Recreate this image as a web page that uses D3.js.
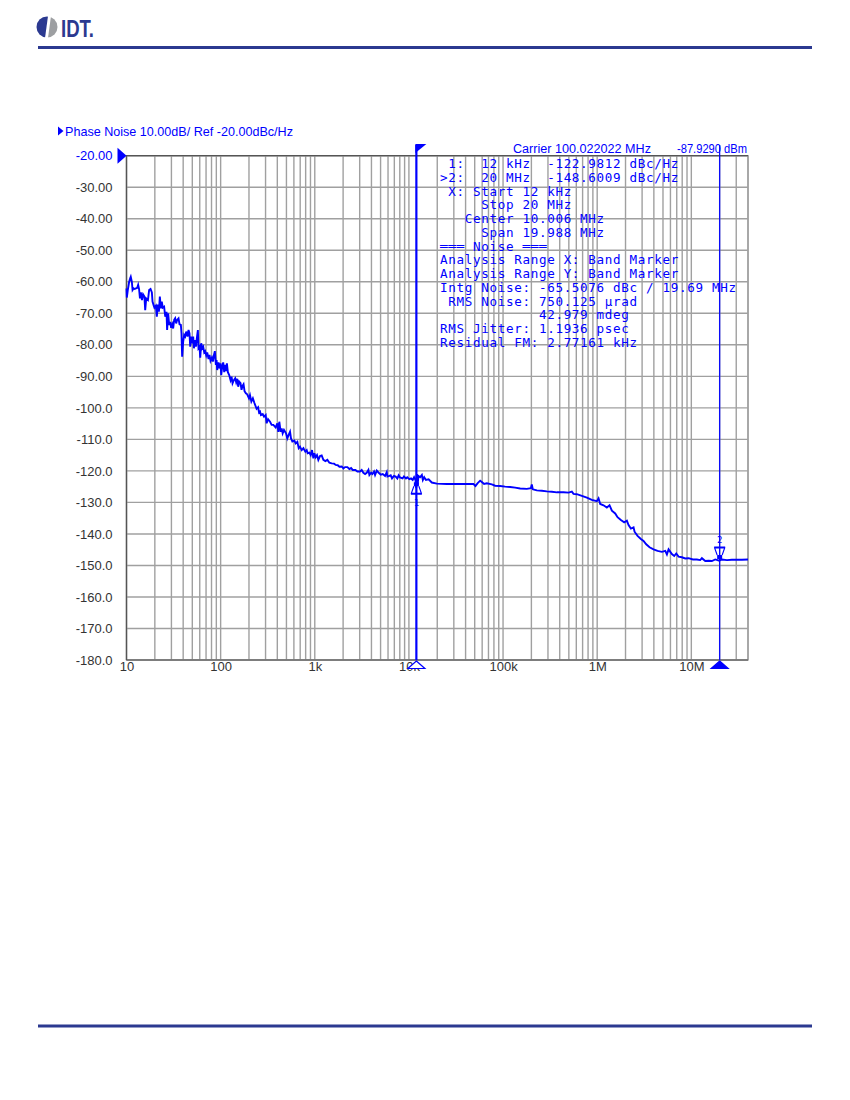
<!DOCTYPE html>
<html>
<head>
<meta charset="utf-8">
<script src="https://cdn.jsdelivr.net/npm/d3@7"></script>
<style>
  body { margin: 0; background: #fff; }
  svg { display: block; }
</style>
</head>
<body>
<svg id="page" width="850" height="1100"></svg>
<script>
// trace values (offset Hz / dBc/Hz)
const offsetHz = [
  10.0, 10.08, 10.33, 10.67, 10.94, 11.1, 11.4, 11.6, 11.9, 12.2, 12.6, 13.0, 13.3, 13.6, 13.9, 14.2,
  14.6, 15.0, 15.5, 15.8, 16.2, 16.9, 17.4, 18.0, 18.6, 18.9, 19.4, 19.8, 20.5, 21.0, 21.5, 22.1,
  22.6, 23.2, 23.7, 24.3, 25.1, 25.8, 26.6, 27.0, 27.7, 28.4, 29.1, 29.8, 30.6, 31.3, 32.1, 32.9,
  33.7, 34.5, 35.7, 36.6, 37.8, 38.4, 39.0, 40.0, 41.0, 42.0, 43.1, 44.5, 45.6, 46.7, 47.5, 48.6,
  49.9, 51.1, 52.0, 53.2, 54.6, 55.9, 57.3, 58.2, 59.7, 60.7, 62.2, 63.7, 65.3, 66.9, 68.5, 70.3,
  72.0, 74.4, 76.2, 78.1, 80.7, 82.7, 84.7, 86.8, 89.0, 90.5, 91.9, 95.0, 97.3, 99.8, 101.4, 103.9,
  106.5, 109.1, 111.8, 114.6, 116.5, 119.4, 123.3, 127.4, 130.6, 133.8, 138.2, 142.8, 146.3, 150.0,
  153.7, 157.5, 162.7, 166.7, 170.9, 175.1, 179.5, 185.4, 191.5, 200, 205, 212, 220, 228, 241, 250, 256,
  262, 268, 280, 289, 301, 308, 319, 335, 348, 363, 384, 400, 410, 420, 434, 445, 456, 471, 495, 511,
  528, 546, 559, 578, 607, 627, 653, 675, 697, 727, 757, 794, 821, 841, 876, 905, 935, 966, 990, 1022,
  1056, 1091, 1137, 1184, 1234, 1296, 1361, 1429, 1513, 1602, 1669, 1753, 1826, 1934, 2015, 2099, 2219,
  2332, 2431, 2531, 2701, 2837, 3026, 3152, 3283, 3422, 3563, 3713, 3804, 3964, 4092, 4265, 4370, 4554,
  4745, 5025, 5277, 5581, 5816, 5911, 6202, 6406, 6616, 6943, 7231, 7535, 7784, 8038, 8567, 8856, 9301,
  9608, 10113, 10532, 10978, 11358, 11738, 11947, 12149, 12353, 12655, 13179, 13729, 14069, 14541,
  15170, 16192, 17505, 19778, 25254, 32261, 41202, 48507, 50942, 53490, 57110, 59489, 62964, 67222,
  75970, 82404, 93128, 105222, 118929, 134491, 151988, 178918, 197302, 202140, 207138, 228505, 258258,
  291880, 329857, 372833, 438708, 495875, 538125, 560380, 608111, 687048, 776467, 877254, 991749,
  1033677, 1076411, 1167522, 1266697, 1352165, 1431989, 1553740, 1644852, 1784342, 1936732, 2067353,
  2153627, 2280216, 2433413, 2493886, 2683366, 2911549, 3106674, 3317925, 3598517, 3968609, 4377402,
  4866021, 5282878, 5502191, 5731180, 6215767, 6581021, 6912411, 7318785, 7939636, 8613700, 9345800,
  10393000, 11457500, 12433000, 12949000, 14054000, 15247000, 16537000, 17948000, 19795000, 21133000,
  23883000, 26979000, 30502000, 34469000, 40000000
];
const phaseNoise = [
  -62.1, -65.0, -62.6, -60.0, -58.9, -58.4, -60.0, -62.6, -62.1, -62.3, -62.1, -61.9, -61.0, -62.3, -65.3, -63.4,
  -65.8, -64.0, -64.7, -69.0, -65.3, -65.8, -62.6, -62.3, -63.4, -66.3, -67.4, -68.2, -67.6, -71.1, -67.2, -69.5,
  -64.7, -68.4, -66.3, -68.2, -67.9, -71.1, -69.5, -75.3, -70.0, -73.7, -72.7, -74.6, -73.5, -74.8, -72.1, -71.6,
  -73.2, -72.1, -71.6, -73.5, -73.7, -76.4, -83.8, -79.0, -76.9, -77.4, -75.8, -77.4, -75.3, -76.4, -80.6, -77.4,
  -79.5, -77.4, -81.1, -78.5, -80.6, -77.9, -75.3, -81.1, -80.6, -84.1, -79.5, -81.1, -80.6, -82.4, -82.0, -83.4,
  -82.4, -84.5, -83.2, -85.1, -84.1, -85.3, -83.4, -82.0, -86.4, -84.8, -88.0, -85.6, -87.5, -85.9, -89.6, -86.9,
  -85.6, -88.7, -86.4, -88.3, -85.9, -88.7, -89.6, -91.2, -90.1, -92.2, -91.2, -90.6, -91.9, -90.8,
  -93.3, -91.7, -92.2, -94.3, -93.0, -92.5, -94.7, -95.4, -95.7, -97.0, -96.0, -98.0, -97.0, -98.4, -100.3, -99.8, -101.5,
  -101.2, -102.3, -102.0, -102.8, -102.3, -104.9, -103.6, -104.4, -105.4, -105.4, -106.2, -104.9, -107.6, -104.4, -107.6, -106.5, -108.1, -107.0, -108.1, -109.7,
  -108.6, -107.6, -109.7, -110.7, -110.4, -111.3, -110.8, -112.8, -112.3, -113.4, -112.8, -113.9, -113.4, -114.4, -114.2, -115.0, -113.4, -116.0, -114.4, -115.7,
  -115.0, -116.5, -115.3, -115.1, -116.5, -116.9, -116.5, -117.4, -117.6, -117.7, -118.1, -118.2, -118.7, -118.6, -119.2, -118.8, -118.8,
  -119.4, -119.1, -119.7, -119.7, -120.2, -120.2, -119.7, -120.6, -121.0, -120.6, -119.7, -121.3, -120.6, -121.0, -120.2, -121.3, -119.9, -120.5,
  -121.2, -121.0, -121.6, -120.4, -121.8, -121.6, -121.4, -122.4, -121.6, -121.8, -122.4, -121.4, -122.1, -122.4, -121.8, -122.4, -122.0,
  -122.6, -122.4, -122.9, -122.0, -122.9, -125.5, -121.0, -124.5, -121.6, -122.0, -121.3, -122.9, -122.0, -122.9,
  -122.7, -123.7, -124.05, -124.16, -124.16, -124.16, -124.16, -124.8, -123.95, -123.1, -123.5, -124.16, -123.95,
  -124.26, -124.7, -124.8, -125.0, -125.1, -125.3, -125.6, -125.7, -125.5, -124.3, -125.85, -126.2, -126.3,
  -126.5, -126.6, -126.8, -126.8, -126.9, -126.6, -127.3, -127.4, -127.9, -128.5, -129.2, -129.6,
  -128.7, -130.5, -130.9, -131.6, -130.9, -132.6, -133.5, -134.7, -135.6, -136.3, -135.8,
  -137.2, -138.3, -137.9, -139.3, -140.6, -141.6, -142.2, -143.3, -144.25, -144.9, -145.4,
  -145.7, -145.4, -146.5, -144.9, -146.4, -147.0, -146.2, -147.2, -147.4, -147.8, -147.7,
  -148.1, -148.1, -148.3, -147.7, -148.6, -148.5, -148.6, -148.1, -148.5, -148.1,
  -148.3, -148.2, -148.2, -148.2, -148.1
];

const yTicks = [-20, -30, -40, -50, -60, -70, -80, -90, -100, -110, -120, -130, -140, -150, -160, -170, -180];
const yTickLabels = ["-20.00", "-30.00", "-40.00", "-50.00", "-60.00", "-70.00", "-80.00", "-90.00", "-100.0",
  "-110.0", "-120.0", "-130.0", "-140.0", "-150.0", "-160.0", "-170.0", "-180.0"];
const xTicks = [10, 100, 1e3, 1e4, 1e5, 1e6, 1e7];
const xTickLabels = ["10", "100", "1k", "10k", "100k", "1M", "10M"];

const markerNames = ["1", "2"];
const markerFreq = [12e3, 20e6];
const markerValue = [-122.9812, -148.6009];

const readout = [
  " 1:  12 kHz  -122.9812 dBc/Hz",
  ">2:  20 MHz  -148.6009 dBc/Hz",
  " X: Start 12 kHz",
  "     Stop 20 MHz",
  "   Center 10.006 MHz",
  "     Span 19.988 MHz",
  "\u2550\u2550\u2550 Noise \u2550\u2550\u2550",
  "Analysis Range X: Band Marker",
  "Analysis Range Y: Band Marker",
  "Intg Noise: -65.5076 dBc / 19.69 MHz",
  " RMS Noise: 750.125 \u00b5rad",
  "            42.979 mdeg",
  "RMS Jitter: 1.1936 psec",
  "Residual FM: 2.77161 kHz"
];

const BLUE = "#0000ff";
const NAVY = "#2b3990";
const GRID = "#a0a0a0";
const LABEL_FONT = "Liberation Sans, Arial, sans-serif";

const svg = d3.select("#page");

// ---- page header / footer
const logoClip = svg.append("clipPath").attr("id", "logo-clip");
logoClip.append("circle").attr("cx", 47).attr("cy", 27).attr("r", 10.5);
const logo = svg.append("g").attr("clip-path", "url(#logo-clip)");
logo.append("polygon").attr("points", "35,16 48,16 45,38 35,38").attr("fill", NAVY);
logo.append("polygon").attr("points", "51,16 59,16 59,38 48,38").attr("fill", "#9d9fa2");
svg.append("text")
  .attr("x", 61).attr("y", 37)
  .attr("font-family", LABEL_FONT)
  .attr("font-weight", "bold").attr("font-size", 24)
  .attr("textLength", 33).attr("lengthAdjust", "spacingAndGlyphs")
  .attr("fill", NAVY)
  .text("IDT.");

svg.append("line").attr("x1", 38).attr("x2", 812).attr("y1", 47.5).attr("y2", 47.5)
  .attr("stroke", NAVY).attr("stroke-width", 3);
svg.append("line").attr("x1", 38).attr("x2", 812).attr("y1", 1026).attr("y2", 1026)
  .attr("stroke", NAVY).attr("stroke-width", 3);

// ---- scales
const x = d3.scaleLog().domain([10, 4e7]).range([126.5, 748]);
const y = d3.scaleLinear().domain([-180, -20]).range([660, 155.7]);
const [plotLeft, plotRight] = x.range();
const [plotBottom, plotTop] = y.range();

// ---- grid
const grid = svg.append("g");
grid.selectAll(".vg")
  .data(x.ticks())
  .enter().append("line")
    .attr("x1", d => x(d)).attr("x2", d => x(d))
    .attr("y1", plotTop).attr("y2", plotBottom)
    .attr("stroke", GRID).attr("stroke-width", 1.4);
grid.selectAll(".hg")
  .data(yTicks)
  .enter().append("line")
    .attr("x1", plotLeft).attr("x2", plotRight)
    .attr("y1", d => y(d)).attr("y2", d => y(d))
    .attr("stroke", GRID).attr("stroke-width", 1.4);
svg.append("rect")
  .attr("x", plotLeft).attr("y", plotTop)
  .attr("width", plotRight - plotLeft).attr("height", plotBottom - plotTop)
  .attr("fill", "none").attr("stroke", GRID).attr("stroke-width", 1.4);
svg.append("path")
  .attr("d", `M${plotLeft},${plotBottom}V${plotTop}H${plotRight}`)
  .attr("fill", "none").attr("stroke", "#555").attr("stroke-width", 1.2);
svg.append("line").attr("x1", plotLeft).attr("x2", plotRight).attr("y1", plotBottom).attr("y2", plotBottom)
  .attr("stroke", "#555").attr("stroke-width", 1.2);

// ---- axes (labels only)
const yAxis = svg.append("g")
  .attr("transform", `translate(${plotLeft},0)`)
  .call(d3.axisLeft(y).tickValues(yTicks).tickFormat((d, i) => yTickLabels[i]).tickSize(0).tickPadding(14));
yAxis.select(".domain").remove();
yAxis.selectAll("text")
  .attr("font-family", LABEL_FONT).attr("font-size", 13)
  .attr("fill", (d, i) => i === 0 ? BLUE : "#333");

const xAxis = svg.append("g")
  .attr("transform", `translate(0,${plotBottom})`)
  .call(d3.axisBottom(x).tickValues(xTicks).tickFormat((d, i) => xTickLabels[i]).tickSize(0).tickPadding(2));
xAxis.select(".domain").remove();
xAxis.selectAll("text")
  .attr("font-family", LABEL_FONT).attr("font-size", 13)
  .attr("fill", "#333");

// reference level arrow
svg.append("path")
  .attr("d", `M${plotLeft - 9},${y(-20) - 8}L${plotLeft},${y(-20)}L${plotLeft - 9},${y(-20) + 8}Z`)
  .attr("fill", BLUE);

// ---- titles
svg.append("path").attr("d", "M58,126.5L63.5,131L58,135.5Z").attr("fill", BLUE);
svg.append("text")
  .attr("x", 65).attr("y", 136)
  .attr("font-family", LABEL_FONT).attr("font-size", 13)
  .attr("textLength", 228).attr("lengthAdjust", "spacingAndGlyphs")
  .attr("fill", BLUE)
  .text("Phase Noise 10.00dB/ Ref -20.00dBc/Hz");
svg.append("text")
  .attr("x", 513).attr("y", 153)
  .attr("font-family", LABEL_FONT).attr("font-size", 12)
  .attr("textLength", 138).attr("lengthAdjust", "spacingAndGlyphs")
  .attr("fill", BLUE)
  .text("Carrier 100.022022 MHz");
svg.append("text")
  .attr("x", 677).attr("y", 153)
  .attr("font-family", LABEL_FONT).attr("font-size", 12)
  .attr("textLength", 70).attr("lengthAdjust", "spacingAndGlyphs")
  .attr("fill", BLUE)
  .text("-87.9290 dBm");

// ---- trace
const trace = offsetHz.map((f, i) => [f, phaseNoise[i]]);
svg.append("path")
  .datum(trace)
  .attr("d", d3.line().x(d => x(d[0])).y(d => y(d[1])))
  .attr("fill", "none").attr("stroke", BLUE)
  .attr("stroke-width", 1.9).attr("stroke-linejoin", "miter");

// ---- markers
const markers = markerFreq.map((f, i) => ({ name: markerNames[i], f: f, v: markerValue[i], active: i === 1 }));
const mg = svg.selectAll(".marker")
  .data(markers)
  .enter().append("g");

mg.append("line")
  .attr("x1", d => x(d.f)).attr("x2", d => x(d.f))
  .attr("y1", 145).attr("y2", plotBottom)
  .attr("stroke", BLUE).attr("stroke-width", d => d.active ? 1.2 : 2.2);

// flag on the first marker, triangles on the axis
mg.filter(d => !d.active).append("path")
  .attr("d", d => `M${x(d.f) - 1},144H${x(d.f) + 10}L${x(d.f) - 1},153Z`)
  .attr("fill", BLUE);
mg.append("path")
  .attr("d", d => `M${x(d.f)},${plotBottom + 1}L${x(d.f) + 8.5},${plotBottom + 8.5}H${x(d.f) - 8.5}Z`)
  .attr("fill", d => d.active ? BLUE : "#fff")
  .attr("stroke", BLUE).attr("stroke-width", 1.2);

// glyph next to the trace: 1 hangs below, 2 sits above
mg.each(function(d) {
  const g = d3.select(this);
  const cx = x(d.f);
  const cy = y(d.v);
  const s = d.active ? -1 : 1;
  g.append("rect")
    .attr("x", cx - 2.5).attr("y", s > 0 ? cy + 2 : cy - 6)
    .attr("width", 5).attr("height", 4)
    .attr("fill", BLUE);
  g.append("path")
    .attr("d", `M${cx - 2.5},${cy + s * 6}L${cx - 5},${cy + s * 13}H${cx + 5}L${cx + 2.5},${cy + s * 6}` +
      `M${cx - 5.5},${cy + s * 14}H${cx + 5.5}`)
    .attr("fill", "none").attr("stroke", BLUE).attr("stroke-width", 1.1);
  g.append("text")
    .attr("x", cx).attr("y", s > 0 ? cy + 26 : cy - 18)
    .attr("text-anchor", "middle")
    .attr("font-family", "DejaVu Sans Mono, monospace").attr("font-size", 9)
    .attr("fill", BLUE)
    .text(d.name);
});

// ---- readout block (monospace, 8.25px per column)
svg.append("g")
  .selectAll("text")
  .data(readout)
  .enter().append("text")
    .attr("x", 440)
    .attr("y", (d, i) => 168.3 + i * 13.72)
    .attr("xml:space", "preserve")
    .style("white-space", "pre")
    .attr("font-family", "DejaVu Sans Mono, monospace").attr("font-size", 12.6)
    .attr("letter-spacing", 0.66)
    .attr("fill", BLUE)
    .text(d => d);
</script>
</body>
</html>
